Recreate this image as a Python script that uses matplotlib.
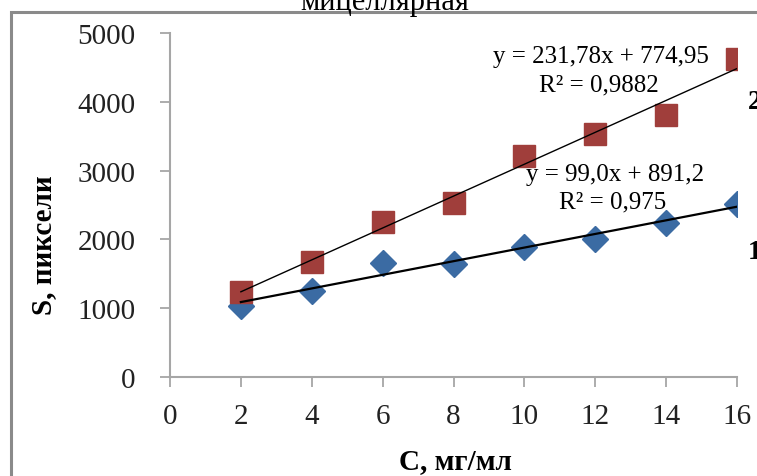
import matplotlib.pyplot as plt
from matplotlib.patches import Rectangle
import numpy as np

plt.rcParams['font.family'] = ['Liberation Serif', 'DejaVu Serif']

# data
conc = [2, 4, 6, 8, 10, 12, 14, 16]
s_series1 = [1030, 1250, 1655, 1640, 1890, 2005, 2240, 2510]
s_series2 = [1235, 1675, 2255, 2525, 3210, 3530, 3810, 4620]

# linear trends as printed on the chart
trend1 = (99.0, 891.2)
trend2 = (231.78, 774.95)
eq1 = ['y = 99,0x + 891,2', 'R² = 0,975']
eq2 = ['y = 231,78x + 774,95', 'R² = 0,9882']

x_ticks = list(range(0, 17, 2))
y_ticks = list(range(0, 5001, 1000))

W, H = 757, 477
fig = plt.figure(figsize=(W / 100, H / 100), dpi=100)
ax = fig.add_axes([170 / W, 1 - 378 / H, 567 / W, 344 / H])

# outer frame of the embedded chart (cut off at right/bottom)
fig.patches.append(Rectangle((11 / W, -0.1), 1.2, 1 - 13 / H + 0.1,
                             transform=fig.transFigure, fill=False,
                             edgecolor='#8a8a8a', linewidth=2.2))

# cut-off title at the very top
fig.text(385 / W, 1 - 10 / H, 'мицеллярная', ha='center', va='baseline',
         fontsize=22)

blue = '#3b6ba3'
red = '#a03e3b'

xl = np.array([conc[0], conc[-1]])
ax.plot(xl, trend2[0] * xl + trend2[1], color='black', lw=1.0, zorder=3)
ax.plot(xl, trend1[0] * xl + trend1[1], color='black', lw=1.6, zorder=3)

ax.plot(conc, s_series1, linestyle='none', marker='D', markersize=13,
        color=blue, zorder=2)
ax.plot(conc, s_series2, linestyle='none', marker='s', markersize=16,
        color=red, zorder=2)

ax.set_xlim(0, 16)
ax.set_ylim(0, 5000)
ax.set_xticks(x_ticks)
ax.set_yticks(y_ticks)
for sp in ['top', 'right']:
    ax.spines[sp].set_visible(False)
for sp in ['left', 'bottom']:
    ax.spines[sp].set_color('#a6a6a6')
    ax.spines[sp].set_linewidth(1.5)
ax.tick_params(axis='both', colors='#a6a6a6', length=7, width=1.3,
               labelcolor='#222222', labelsize=21)
ax.tick_params(axis='y', pad=18)
ax.tick_params(axis='x', pad=12)

ax.set_xlabel('С, мг/мл', fontsize=21, fontweight='bold')
ax.xaxis.set_label_coords(0.503, -0.205)
ax.set_ylabel('S, пиксели', fontsize=21, fontweight='bold')
ax.yaxis.set_label_coords(-0.2, 0.387)

# trend equations
ax.text(12.15, 4666, eq2[0], ha='center', va='center', fontsize=18)
ax.text(12.1, 4250, eq2[1], ha='center', va='center', fontsize=18)
ax.text(12.55, 2950, eq1[0], ha='center', va='center', fontsize=18)
ax.text(12.5, 2545, eq1[1], ha='center', va='center', fontsize=18)

# series numbers
ax.text(16.3, 4000, '2', ha='left', va='center', fontsize=20,
        fontweight='bold', clip_on=False)
ax.text(16.3, 1830, '1', ha='left', va='center', fontsize=20,
        fontweight='bold', clip_on=False)

fig.savefig('out.png', dpi=100, facecolor='white')
